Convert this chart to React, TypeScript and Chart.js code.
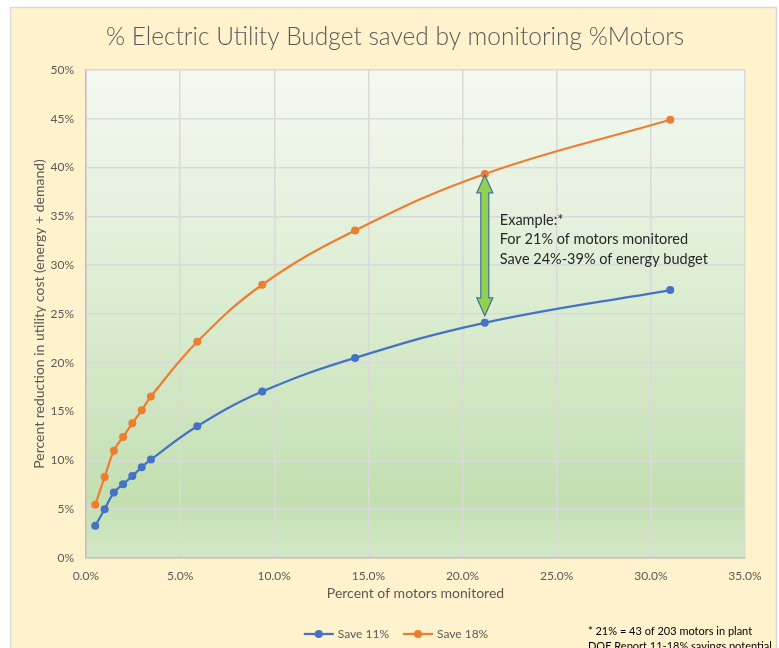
import React, { useEffect, useRef } from "react";
import { Chart, registerables } from "chart.js";

Chart.register(...registerables);

const TITLE = "% Electric Utility Budget saved by monitoring %Motors";
const X_TITLE = "Percent of motors monitored";
const Y_TITLE = "Percent reduction in utility cost (energy + demand)";
const SERIES_NAMES = ["Save 11%", "Save 18%"];
const MOTORS_MONITORED = [0.49, 0.99, 1.48, 1.97, 2.46, 2.96, 3.45, 5.91, 9.36, 14.29, 21.18, 31.03];
const SAVE_11 = [3.3, 5.0, 6.7, 7.55, 8.4, 9.3, 10.1, 13.5, 17.05, 20.5, 24.1, 27.45];
const SAVE_18 = [5.45, 8.3, 11.0, 12.4, 13.8, 15.15, 16.55, 22.15, 28.0, 33.55, 39.35, 44.9];
const EXAMPLE_INDEX = 10;
const NOTE_LINES = ["Example:*", "For 21% of motors monitored", "Save 24%-39% of energy budget"];
const FOOT_LINES = ["* 21% = 43 of 203 motors in plant", "DOE Report 11-18% savings potential"];

const FONT = "Lato, 'Open Sans', sans-serif";
const BLUE = "#4472C4";
const ORANGE = "#ED7D31";
const GRAY_TEXT = "#595959";

const decorPlugin = {
  id: "decor",
  beforeDraw(chart: any) {
    const { ctx, chartArea: a } = chart;
    ctx.save();
    ctx.fillStyle = "#ffffff";
    ctx.fillRect(0, 0, chart.width, chart.height);
    ctx.fillStyle = "#FFF2CC";
    ctx.fillRect(11, 8, 766, 660);
    ctx.strokeStyle = "#D9D9D9";
    ctx.lineWidth = 1.5;
    ctx.strokeRect(10.5, 7.5, 766, 660);
    const g = ctx.createLinearGradient(0, a.top, 0, a.bottom);
    g.addColorStop(0, "#F4F8F1");
    g.addColorStop(0.5, "#DAECCF");
    g.addColorStop(0.88, "#C3DFB1");
    g.addColorStop(1, "#D3E8C6");
    ctx.fillStyle = g;
    ctx.fillRect(a.left, a.top, a.right - a.left, a.bottom - a.top);
    // title
    ctx.fillStyle = GRAY_TEXT;
    ctx.font = `300 24.5px ${FONT}`;
    ctx.textAlign = "center";
    ctx.textBaseline = "middle";
    ctx.fillText(TITLE, 395, 37);
    ctx.restore();
  },
  afterDatasetsDraw(chart: any) {
    const { ctx, scales } = chart;
    const xs = scales.x, ys = scales.y;
    const x = xs.getPixelForValue(MOTORS_MONITORED[EXAMPLE_INDEX]);
    const yTop = ys.getPixelForValue(SAVE_18[EXAMPLE_INDEX]) + 1;
    const yBot = ys.getPixelForValue(SAVE_11[EXAMPLE_INDEX]) - 7;
    const hw = 4, hh = 8, hl = 18;
    ctx.save();
    ctx.beginPath();
    ctx.moveTo(x, yTop);
    ctx.lineTo(x + hh, yTop + hl);
    ctx.lineTo(x + hw, yTop + hl);
    ctx.lineTo(x + hw, yBot - hl);
    ctx.lineTo(x + hh, yBot - hl);
    ctx.lineTo(x, yBot);
    ctx.lineTo(x - hh, yBot - hl);
    ctx.lineTo(x - hw, yBot - hl);
    ctx.lineTo(x - hw, yTop + hl);
    ctx.lineTo(x - hh, yTop + hl);
    ctx.closePath();
    ctx.fillStyle = "#92D050";
    ctx.fill();
    ctx.strokeStyle = "#41719C";
    ctx.lineWidth = 1.2;
    ctx.stroke();
    // note text
    ctx.fillStyle = "#262626";
    ctx.font = `14.5px ${FONT}`;
    ctx.textAlign = "left";
    ctx.textBaseline = "middle";
    NOTE_LINES.forEach((t, i) => ctx.fillText(t, x + 15, 220 + i * 19.5));
    ctx.restore();
  },
  afterDraw(chart: any) {
    const { ctx } = chart;
    ctx.save();
    // legend
    ctx.font = `12px ${FONT}`;
    ctx.textBaseline = "middle";
    ctx.textAlign = "left";
    const colors = [BLUE, ORANGE];
    const lineW = 30, gap = 4, spacing = 14;
    const widths = SERIES_NAMES.map((n) => lineW + gap + ctx.measureText(n).width);
    const total = widths.reduce((s, w) => s + w, 0) + spacing * (widths.length - 1);
    let lx = 396 - total / 2;
    const ly = 634;
    SERIES_NAMES.forEach((n, i) => {
      ctx.strokeStyle = colors[i];
      ctx.lineWidth = 2.25;
      ctx.beginPath();
      ctx.moveTo(lx, ly);
      ctx.lineTo(lx + lineW, ly);
      ctx.stroke();
      ctx.fillStyle = colors[i];
      ctx.beginPath();
      ctx.arc(lx + lineW / 2, ly, 4, 0, Math.PI * 2);
      ctx.fill();
      ctx.fillStyle = GRAY_TEXT;
      ctx.fillText(n, lx + lineW + gap, ly);
      lx += widths[i] + spacing;
    });
    // footnote
    ctx.fillStyle = "#000000";
    ctx.font = `11px ${FONT}`;
    FOOT_LINES.forEach((t, i) => ctx.fillText(t, 588, 631 + i * 15));
    ctx.restore();
  },
};

export default function App() {
  const ref = useRef<HTMLCanvasElement>(null);
  useEffect(() => {
    if (!ref.current) return;
    const mk = (ys: number[]) => MOTORS_MONITORED.map((x, i) => ({ x, y: ys[i] }));
    const chart = new Chart(ref.current, {
      type: "line",
      data: {
        datasets: [
          {
            label: SERIES_NAMES[0],
            data: mk(SAVE_11),
            borderColor: BLUE,
            backgroundColor: BLUE,
            borderWidth: 2.25,
            pointRadius: 4,
            pointBorderWidth: 0,
            tension: 0.4,
          },
          {
            label: SERIES_NAMES[1],
            data: mk(SAVE_18),
            borderColor: ORANGE,
            backgroundColor: ORANGE,
            borderWidth: 2.25,
            pointRadius: 4,
            pointBorderWidth: 0,
            tension: 0.4,
          },
        ],
      },
      options: {
        animation: false,
        responsive: false,
        devicePixelRatio: 1,
        layout: { padding: { left: 11, right: 34, top: 70, bottom: 42 } },
        plugins: { legend: { display: false }, title: { display: false }, tooltip: { enabled: false } },
        scales: {
          x: {
            type: "linear",
            min: 0,
            max: 35,
            afterFit: (s: any) => { s.height = 48; },
            ticks: {
              stepSize: 5,
              padding: 11,
              color: GRAY_TEXT,
              font: { family: FONT, size: 12 },
              callback: (v: any) => Number(v).toFixed(1) + "%",
            },
            grid: { color: "#D9D9D9", lineWidth: 1.5, drawTicks: false },
            border: { color: "#BFBFBF", width: 1.5 },
            title: {
              display: true,
              text: X_TITLE,
              color: GRAY_TEXT,
              font: { family: FONT, size: 14 },
              padding: { top: 5, bottom: 4 },
            },
          },
          y: {
            min: 0,
            max: 50,
            afterFit: (s: any) => { s.width = 75; },
            ticks: {
              stepSize: 5,
              padding: 12,
              color: GRAY_TEXT,
              font: { family: FONT, size: 12 },
              callback: (v: any) => v + "%",
            },
            grid: { color: "#D9D9D9", lineWidth: 1.5, drawTicks: false },
            border: { color: "#BFBFBF", width: 1.5 },
            title: {
              display: true,
              text: Y_TITLE,
              color: GRAY_TEXT,
              font: { family: FONT, size: 14 },
              padding: { top: 20, bottom: 4 },
            },
          },
        },
      },
      plugins: [decorPlugin],
    });
    return () => chart.destroy();
  }, []);
  return (
    <div style={{ position: "absolute", left: 0, top: 0, width: 779, height: 648 }}>
      <canvas ref={ref} width={779} height={648} />
    </div>
  );
}
